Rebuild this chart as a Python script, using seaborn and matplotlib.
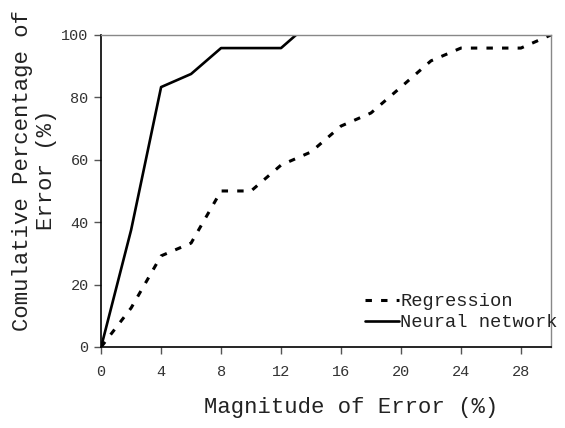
import matplotlib
matplotlib.use("Agg")
import matplotlib.pyplot as plt
import seaborn as sns
import pandas as pd

reg_x = [0, 2, 4, 6, 8, 10, 12, 14, 16, 18, 20, 22, 24, 26, 28, 30]
reg_y = [0, 12.5, 29.2, 33.3, 50, 50, 58.3, 62.5, 70.8, 75, 83.3, 91.7, 95.8, 95.8, 95.8, 100]
nn_x = [0, 2, 4, 6, 8, 10, 12, 13]
nn_y = [0, 37.5, 83.3, 87.5, 95.8, 95.8, 95.8, 100]
x_ticks = [0, 4, 8, 12, 16, 20, 24, 28]
y_ticks = [0, 20, 40, 60, 80, 100]

sns.set_theme(style="white")
plt.rcParams['font.family'] = ['Liberation Mono', 'DejaVu Sans Mono']

fig = plt.figure(figsize=(5.65, 4.28), dpi=100)
ax = fig.add_axes([0.179, 0.1893, 0.796, 0.729])

reg = pd.DataFrame({"x": reg_x, "y": reg_y})
nn = pd.DataFrame({"x": nn_x, "y": nn_y})
sns.lineplot(data=reg, x="x", y="y", ax=ax, color="black", lw=2.2,
             label="Regression", linestyle=(0, (2.1, 3.0)))
sns.lineplot(data=nn, x="x", y="y", ax=ax, color="black", lw=1.9,
             label="Neural network")

ax.set_xlim(0, 30)
ax.set_ylim(0, 100)
ax.set_xticks(x_ticks)
ax.set_yticks(y_ticks)
ax.tick_params(axis="both", direction="out", length=5, width=1, color="#555555",
               labelsize=11, labelcolor="#333333", bottom=True, left=True)
ax.tick_params(axis="x", pad=8)
ax.tick_params(axis="y", pad=4)

for s in ["left", "bottom"]:
    ax.spines[s].set_color("black")
    ax.spines[s].set_linewidth(1.2)
for s in ["top", "right"]:
    ax.spines[s].set_color("#888888")
    ax.spines[s].set_linewidth(1.0)

ax.set_xlabel("Magnitude of Error (%)", fontsize=16, color="#222222")
ax.xaxis.label.set_va("center")
ax.xaxis.set_label_coords(0.556, -0.1955)
ax.set_ylabel("Comulative Percentage of\nError (%)", fontsize=16, color="#222222",
              linespacing=1.2)
ax.yaxis.label.set_va("center")
ax.yaxis.set_label_coords(-0.149, 0.567)

leg = ax.legend(loc="upper left", bbox_to_anchor=((365 - 101) / 450, (347 - 293) / 312),
                frameon=False, fontsize=13.5, handlelength=1.8, handletextpad=0.08,
                labelspacing=0.22, borderaxespad=0, borderpad=0)
for t in leg.get_texts():
    t.set_color("#222222")

fig.savefig("out.png", dpi=100)
